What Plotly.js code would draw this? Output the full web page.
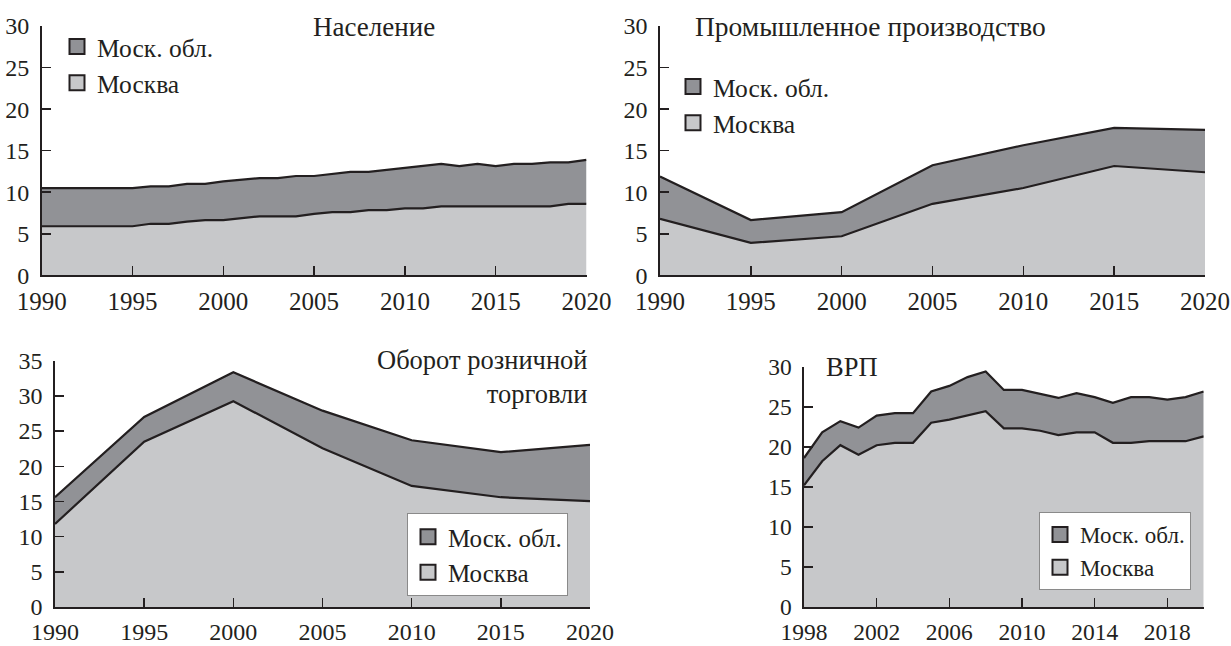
<!DOCTYPE html>
<html><head><meta charset="utf-8">
<script src="https://cdn.plot.ly/plotly-3.0.1.min.js"></script>
<style>html,body{margin:0;padding:0;background:#fff}#chart{width:1231px;height:646px}</style>
</head><body><div id="chart"></div>
<script>
// ---- Data ----
const seriesNames = ['Моск. обл.', 'Москва'];

const popYears = [1990,1991,1992,1993,1994,1995,1996,1997,1998,1999,2000,2001,2002,2003,2004,2005,2006,2007,2008,2009,2010,2011,2012,2013,2014,2015,2016,2017,2018,2019,2020];
const popMoscow = [5.9,5.9,5.9,5.9,5.9,5.9,6.2,6.2,6.45,6.65,6.65,6.85,7.1,7.1,7.1,7.4,7.6,7.6,7.85,7.85,8.05,8.05,8.3,8.3,8.3,8.3,8.3,8.3,8.3,8.6,8.6];
const popOblast = [4.6,4.6,4.6,4.6,4.6,4.6,4.5,4.5,4.55,4.35,4.65,4.65,4.6,4.6,4.85,4.55,4.6,4.85,4.6,4.85,4.9,5.15,5.1,4.85,5.1,4.85,5.1,5.1,5.3,5.0,5.3];

const indYears = [1990,1995,2000,2005,2010,2015,2020];
const indMoscow = [6.8,3.9,4.7,8.6,10.5,13.15,12.4];
const indOblast = [5.1,2.75,2.9,4.65,5.15,4.6,5.1];

const retYears = [1990,1995,2000,2005,2010,2015,2020];
const retMoscow = [11.8,23.5,29.25,22.55,17.2,15.6,15.05];
const retOblast = [3.8,3.5,4.1,5.35,6.5,6.4,8.0];

const grpYears = [1998,1999,2000,2001,2002,2003,2004,2005,2006,2007,2008,2009,2010,2011,2012,2013,2014,2015,2016,2017,2018,2019,2020];
const grpMoscow = [15.2,18.2,20.2,19.0,20.2,20.5,20.5,23.0,23.4,23.9,24.45,22.3,22.3,22.0,21.45,21.8,21.8,20.5,20.5,20.7,20.7,20.7,21.3];
const grpOblast = [3.4,3.6,3.0,3.4,3.7,3.7,3.7,3.9,4.2,4.8,4.95,4.8,4.8,4.6,4.65,4.9,4.4,5.0,5.7,5.5,5.2,5.5,5.6];

const panelTitles = ['Население', 'Промышленное производство', 'Оборот розничной<br>торговли', 'ВРП'];
const grpTicks = [1998,2002,2006,2010,2014,2018];

// ---- Style ----
const INK = '#231f20';
const LIGHT = '#c7c8ca';
const DARK = '#919296';
const FONT = '"Liberation Serif", "Times New Roman", serif';

const W = 1231, H = 646;
const px = v => v / W;
const py = v => 1 - v / H;

function stackTraces(years, moscow, oblast, ax, grp) {
  const xa = 'x' + (ax === 1 ? '' : ax), ya = 'y' + (ax === 1 ? '' : ax);
  return [
    {type:'scatter', mode:'lines', x:years, y:moscow, stackgroup:grp, xaxis:xa, yaxis:ya,
     line:{color:INK, width:2.2}, fillcolor:LIGHT, showlegend:false, name:seriesNames[1], hoverinfo:'x+y'},
    {type:'scatter', mode:'lines', x:years, y:oblast, stackgroup:grp, xaxis:xa, yaxis:ya,
     line:{color:INK, width:2.2}, fillcolor:DARK, showlegend:false, name:seriesNames[0], hoverinfo:'x+y'}
  ];
}
function legendTraces(ax, leg) {
  const xa = 'x' + (ax === 1 ? '' : ax), ya = 'y' + (ax === 1 ? '' : ax);
  return [
    {type:'scatter', mode:'markers', x:[null], y:[null], xaxis:xa, yaxis:ya, legend:leg, name:seriesNames[0],
     marker:{symbol:'square', size:15, color:DARK, line:{color:INK, width:2}}},
    {type:'scatter', mode:'markers', x:[null], y:[null], xaxis:xa, yaxis:ya, legend:leg, name:seriesNames[1],
     marker:{symbol:'square', size:15, color:LIGHT, line:{color:INK, width:2}}}
  ];
}

const data = [].concat(
  stackTraces(popYears, popMoscow, popOblast, 1, 'a'),
  stackTraces(indYears, indMoscow, indOblast, 2, 'b'),
  stackTraces(retYears, retMoscow, retOblast, 3, 'c'),
  stackTraces(grpYears, grpMoscow, grpOblast, 4, 'd'),
  legendTraces(1, 'legend'),
  legendTraces(2, 'legend2'),
  legendTraces(3, 'legend3'),
  legendTraces(4, 'legend4')
);

function xAxis(dom, anchor, range, extra, fs, standoff) {
  return Object.assign({domain:dom, anchor:anchor, range:range, showline:true, linecolor:INK, linewidth:1.6,
    ticks:'inside', ticklen:9, tickwidth:1.5, tickcolor:INK, showgrid:false, zeroline:false,
    tickfont:{family:FONT, size:fs, color:INK}, ticklabelstandoff:standoff, fixedrange:true}, extra);
}
function yAxis(dom, anchor, range, fs) {
  return {domain:dom, anchor:anchor, range:range, dtick:5, tick0:0, showline:true, linecolor:INK, linewidth:1.6,
    ticks:'inside', ticklen:9, tickwidth:1.5, tickcolor:INK, showgrid:false, zeroline:false,
    tickfont:{family:FONT, size:fs, color:INK}, ticklabelstandoff:6, fixedrange:true};
}

const topY = [py(275.3), py(26)];
const legFont = s => ({family:FONT, size:s, color:INK});

const layout = {
  width:W, height:H, margin:{l:0, r:0, t:0, b:0},
  paper_bgcolor:'#ffffff', plot_bgcolor:'rgba(0,0,0,0)',
  font:{family:FONT, color:INK},
  hovermode:false,
  xaxis: xAxis([px(41.7), px(586.5)], 'y', [1990,2020], {dtick:5, tick0:1990}, 25, 3),
  yaxis: yAxis(topY, 'x', [0,30], 24),
  xaxis2: xAxis([px(660), px(1205)], 'y2', [1990,2020], {dtick:5, tick0:1990}, 25, 3),
  yaxis2: yAxis(topY, 'x2', [0,30], 24),
  xaxis3: xAxis([px(55), px(590)], 'y3', [1990,2020], {dtick:5, tick0:1990}, 24, 3),
  yaxis3: yAxis([py(607), py(360.7)], 'x3', [0,35], 24),
  xaxis4: xAxis([px(804), px(1203.7)], 'y4', [1998,2020], {tickmode:'array', tickvals:grpTicks, ticktext:grpTicks.map(String)}, 23.5, 3),
  yaxis4: yAxis([py(607), py(366.7)], 'x4', [0,30], 23.5),
  legend:  {x:px(57), y:py(23.5), xanchor:'left', yanchor:'top', bgcolor:'rgba(0,0,0,0)', borderwidth:0, font:legFont(25.5), traceorder:'normal'},
  legend2: {x:px(673), y:py(63.5), xanchor:'left', yanchor:'top', bgcolor:'rgba(0,0,0,0)', borderwidth:0, font:legFont(25.5), traceorder:'normal'},
  legend3: {x:px(407), y:py(513), xanchor:'left', yanchor:'top', bgcolor:'#ffffff', bordercolor:'#8a8a8a', borderwidth:1, font:legFont(25), traceorder:'normal'},
  legend4: {x:px(1039), y:py(512), xanchor:'left', yanchor:'top', bgcolor:'#ffffff', bordercolor:'#8a8a8a', borderwidth:1, font:legFont(23), traceorder:'normal'},
  annotations: [
    {text:panelTitles[0], xref:'paper', yref:'paper', x:px(374), y:py(26.7), xanchor:'center', yanchor:'middle', showarrow:false, font:{family:FONT, size:27, color:INK}},
    {text:panelTitles[1], xref:'paper', yref:'paper', x:px(693), y:py(26), xanchor:'left', yanchor:'middle', showarrow:false, font:{family:FONT, size:27.5, color:INK}},
    {text:panelTitles[2], xref:'paper', yref:'paper', x:px(590), y:py(377.4), xanchor:'right', yanchor:'middle', align:'right', showarrow:false, font:{family:FONT, size:26.5, color:INK}},
    {text:panelTitles[3], xref:'paper', yref:'paper', x:px(824), y:py(366.7), xanchor:'left', yanchor:'middle', showarrow:false, font:{family:FONT, size:26.5, color:INK}}
  ]
};

Plotly.newPlot('chart', data, layout, {staticPlot:true, displayModeBar:false});
</script>
</body></html>
